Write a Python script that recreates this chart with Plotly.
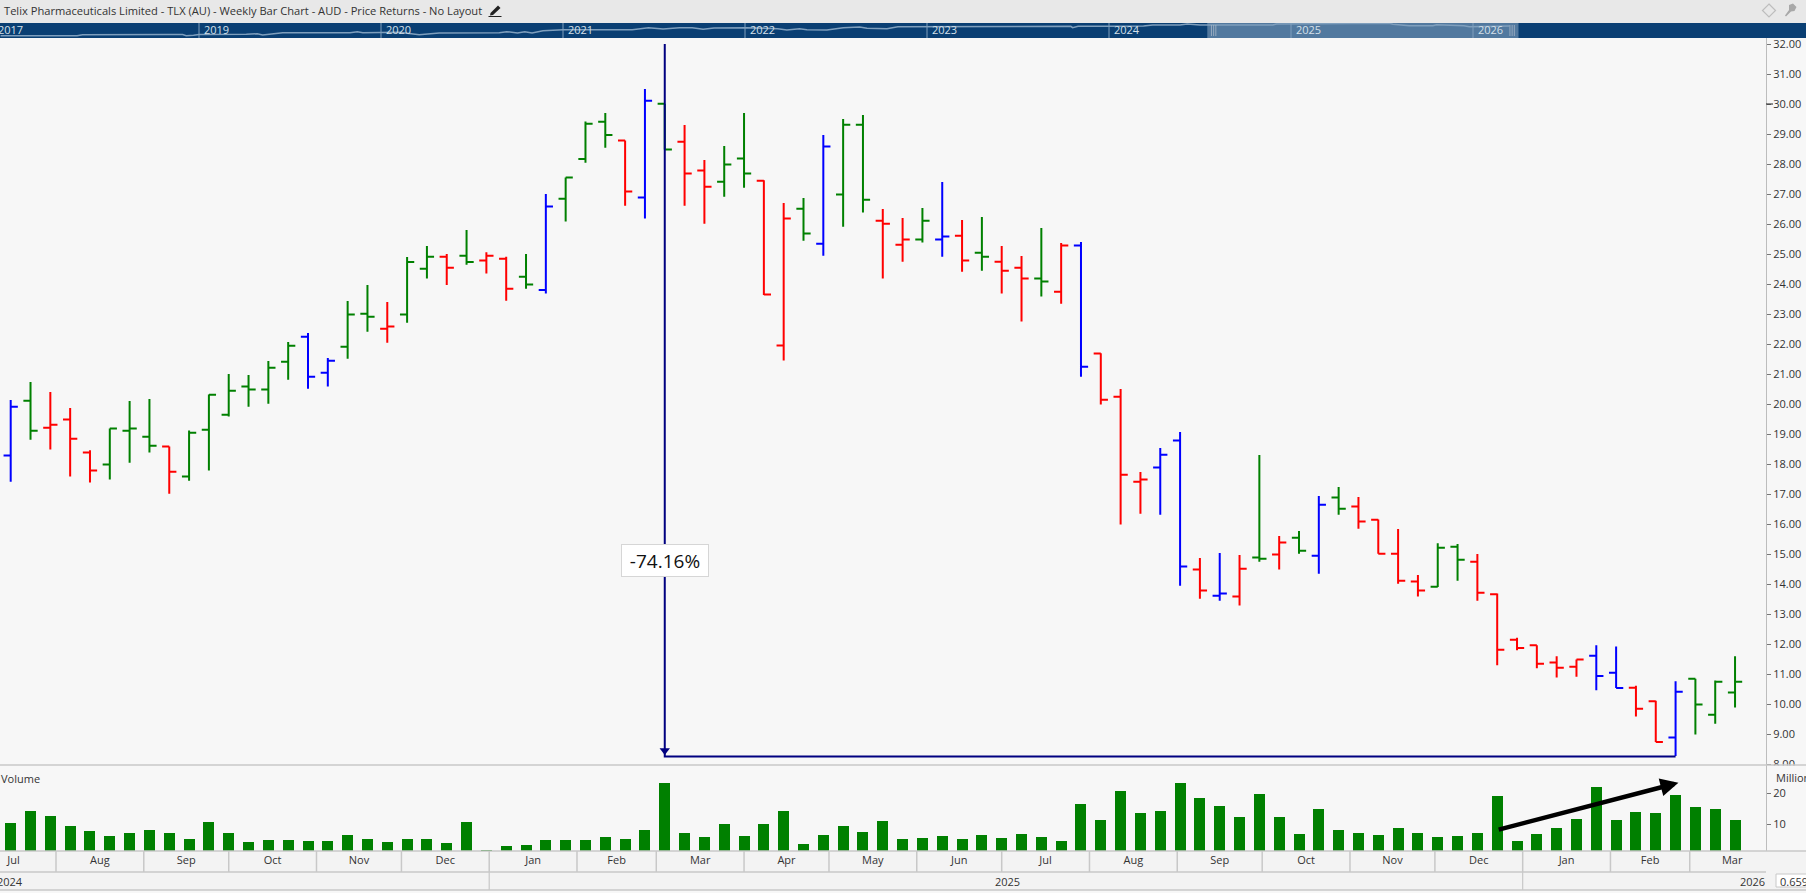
from datetime import datetime, timedelta
import plotly.graph_objects as go

W, H = 1806, 893

# ---------- data ----------
title_text = "Telix Pharmaceuticals Limited - TLX (AU) - Weekly Bar Chart - AUD - Price Returns - No Layout"
first_week = datetime(2024, 7, 16)

opens = [18.28,20.11,19.21,19.48,18.38,17.98,19.11,18.91,18.58,17.58,19.14,19.64,20.58,20.48,21.41,22.24,21.04,21.91,23.01,22.51,
         22.98,24.51,24.91,24.94,24.78,24.84,24.24,23.80,26.84,28.17,29.41,28.78,26.88,30.01,28.74,27.78,27.41,28.18,27.44,21.95,
         26.51,25.34,26.98,29.31,26.11,25.31,25.48,25.48,25.61,25.04,24.74,24.54,24.18,23.74,25.28,21.68,20.24,17.41,17.88,18.78,
         14.48,13.61,13.58,14.88,14.98,15.54,14.94,16.88,16.58,16.14,15.01,14.08,13.91,15.24,14.74,13.66,12.14,11.96,11.38,11.24,
         11.61,11.04,10.54,10.09,8.88,10.84,9.64,10.38]
highs = [20.13,20.73,20.40,19.87,18.46,19.18,20.10,20.17,18.58,19.12,20.32,21.00,20.97,21.43,22.07,22.37,21.53,23.43,23.97,23.40,
         24.90,25.27,25.00,25.80,25.06,24.91,25.00,27.00,27.55,29.42,29.70,28.78,30.50,30.01,29.30,28.13,28.60,29.70,27.46,26.70,
         26.87,28.97,29.50,29.63,26.50,26.20,26.53,27.40,26.13,26.23,25.27,24.93,25.87,25.37,25.40,21.69,20.50,17.73,18.53,19.07,
         14.87,15.03,14.97,18.30,15.60,15.77,16.93,17.23,16.90,16.15,15.83,14.30,15.36,15.33,15.00,13.68,12.21,11.96,11.59,11.48,
         11.96,11.92,10.61,10.11,10.76,10.84,10.78,11.59]
lows = [17.41,18.81,18.48,17.58,17.38,17.48,18.04,18.38,17.01,17.44,17.78,19.58,19.91,20.01,20.81,20.51,20.58,21.51,22.41,22.04,
        22.71,24.18,23.97,24.64,24.35,23.44,23.84,23.68,26.08,28.04,28.54,26.61,26.18,28.48,26.61,26.01,26.91,27.21,23.63,21.45,
        25.44,24.94,25.91,26.38,24.18,24.74,25.38,24.91,24.41,24.44,23.68,22.75,23.58,23.34,20.91,19.98,15.98,16.34,16.31,13.94,
        13.51,13.44,13.28,14.74,14.48,15.01,14.34,16.31,15.84,15.01,14.01,13.58,13.90,14.11,13.44,11.29,11.79,11.19,10.88,10.91,
        10.46,10.53,9.58,8.73,8.27,8.98,9.34,9.88]
closes = [19.91,19.11,19.31,18.84,17.78,19.18,19.18,18.61,17.74,19.04,20.31,20.44,20.48,21.21,21.94,20.91,21.44,22.98,22.91,22.58,
          24.73,24.91,24.54,24.73,24.94,23.84,23.98,26.58,27.55,29.34,28.97,27.08,30.11,28.48,27.68,27.24,27.98,27.68,23.65,26.18,
          25.68,28.58,29.31,26.81,26.01,25.48,26.11,25.58,24.78,24.91,24.44,24.18,24.08,25.28,21.24,20.14,17.64,17.48,18.31,14.58,
          13.78,13.68,14.51,14.84,15.38,15.11,16.64,16.51,16.08,15.01,14.11,13.78,15.21,14.81,13.71,11.81,11.87,11.34,11.21,11.48,
          10.93,10.53,9.84,8.73,10.41,9.98,10.74,10.74]
bar_state = list("bgrrrgggrg" "gggggbbggr" "ggrgrrgbgg" "grbgrrggrr" "gbggrrgbrg"
                 "rrgrbrrrbb" "rbrgrgbgrr" "rrggrrrrrr" "bbrrbggg")
volumes = [10.32,14.19,12.58,9.35,7.74,6.13,7.10,8.06,7.10,5.16,10.65,7.10,4.19,4.84,4.84,4.52,4.52,6.45,5.16,4.19,
           5.16,5.16,3.87,10.65,1.60,2.90,3.23,4.84,4.84,4.84,5.81,5.16,8.06,23.23,7.10,5.81,10.0,6.13,10.0,14.19,
           3.55,6.45,9.35,7.42,10.97,5.16,5.48,6.13,5.16,6.45,5.48,6.77,5.81,4.52,16.45,11.29,20.65,13.55,14.19,23.23,
           18.39,15.81,12.26,19.68,12.26,6.77,14.84,8.06,7.10,6.45,8.71,7.10,5.81,6.13,7.10,19.03,4.52,6.77,8.71,11.61,
           21.94,11.29,13.87,13.55,19.35,15.48,14.84,11.29]

month_names = ["Jul","Aug","Sep","Oct","Nov","Dec","Jan","Feb","Mar","Apr","May","Jun","Jul","Aug","Sep","Oct","Nov","Dec","Jan","Feb","Mar"]
month_starts = ["2024-08-01","2024-09-01","2024-10-01","2024-11-01","2024-12-01","2025-01-01","2025-02-01","2025-03-01","2025-04-01",
                "2025-05-01","2025-06-01","2025-07-01","2025-08-01","2025-09-01","2025-10-01","2025-11-01","2025-12-01","2026-01-01",
                "2026-02-01","2026-03-01"]
first_month_label = "2024-07-17"
last_month_label = "2026-03-16"
price_ticks = list(range(8, 33))
vol_ticks = [10, 20]
measure_top, measure_bottom = 32.0, 8.25
measure_label = "-74.16%"
vol_arrow_from, vol_arrow_to = 8.06, 23.3

overview_years = [2017.91,2018.33,2018.36,2018.79,2018.80,2018.83,2018.91,2018.93,2018.97,2019.0,2019.26,2019.32,2019.35,2019.46,2019.83,2019.87,2019.90,
                  2019.99,2020.10,2020.21,2020.32,2020.65,2020.69,2020.75,2020.79,2020.83,2020.89,2021.0,2021.38,2021.47,2021.55,2021.64,2021.71,2021.77,
                  2021.83,2022.01,2022.12,2022.18,2022.23,2022.30,2022.34,2022.45,2022.54,2022.63,2022.67,2022.78,2022.84,2023.02,2023.29,2023.79,2023.80,
                  2023.83,2024.0,2024.19,2024.24,2024.39,2024.43,2024.48,2024.50,2024.90,2024.92,2025.54,2025.56,2025.65,2025.78,2025.80,2025.95,2025.98,2026.19,2026.20]
overview_vals = [2.3,2.3,3.3,3.5,4.2,3.5,3.5,2.3,2.7,3.5,3.7,4.2,3.0,5.3,5.3,6.3,5.3,5.3,5.7,3.3,5.0,5.3,6.3,5.0,6.3,5.0,7.3,8.3,8.3,10.3,9.0,10.3,10.3,8.7,10.0,
                 10.3,9.3,9.3,8.0,9.3,8.3,8.0,10.3,11.0,9.7,9.3,11.3,11.3,11.7,11.7,10.3,11.7,11.7,12.0,13.0,13.0,14.0,13.7,13.0,13.0,14.0,14.7,13.7,12.3,12.3,13.3,12.3,11.3,11.3,12.0]
overview_year_marks = [2019,2020,2021,2022,2023,2024,2025,2026]
overview_selection = (2024.54, 2026.25)

# ---------- colours ----------
C_GREEN, C_RED, C_BLUE, C_NAVY = "#008000", "#ff0000", "#0000ff", "#000080"
BG = "#f7f7f7"; ROW = "#f3f3f3"; HEAD = "#e8e8e8"; STRIP = "#0a3f73"; SEL = "#52799f"
GRID = "#c8c8c8"; TXT = "#333333"
FONT = "Open Sans"

def px(x): return x / W
def py(y): return 1 - y / H

dates = [first_week + timedelta(days=7 * i) for i in range(len(opens))]
x_start = first_week - timedelta(days=10.7 / (19.82 / 7))
x_end = first_week + timedelta(days=(1766 - 10.7) / (19.82 / 7))

fig = go.Figure()

colors = {"g": C_GREEN, "r": C_RED, "b": C_BLUE}
for key, col in colors.items():
    idx = [i for i, s in enumerate(bar_state) if s == key]
    fig.add_trace(go.Ohlc(
        x=[dates[i] for i in idx], open=[opens[i] for i in idx], high=[highs[i] for i in idx],
        low=[lows[i] for i in idx], close=[closes[i] for i in idx],
        increasing=dict(line=dict(color=col, width=2)), decreasing=dict(line=dict(color=col, width=2)),
        tickwidth=0.36, showlegend=False, hoverinfo="skip", xaxis="x", yaxis="y"))

d_start = dates[33]; d_end = dates[84]
fig.add_trace(go.Scatter(x=[d_start, d_start, d_end], y=[measure_top, measure_bottom, measure_bottom], mode="lines",
                         line=dict(color=C_NAVY, width=2), showlegend=False, hoverinfo="skip", xaxis="x", yaxis="y"))
fig.add_trace(go.Scatter(x=[d_start], y=[measure_bottom + 0.2], mode="markers",
                         marker=dict(symbol="triangle-down", size=9, color=C_NAVY), showlegend=False, hoverinfo="skip", xaxis="x", yaxis="y"))

fig.add_trace(go.Bar(x=dates, y=volumes, width=0.555 * 7 * 86400000, marker=dict(color=C_GREEN, line=dict(width=0)),
                     base=0, showlegend=False, hoverinfo="skip", xaxis="x", yaxis="y2"))

fig.add_trace(go.Scatter(x=overview_years, y=overview_vals, mode="lines", line=dict(color="#7f9fbd", width=1.5),
                         showlegend=False, hoverinfo="skip", xaxis="x3", yaxis="y3"))

# month ticks
starts = [datetime.strptime(s, "%Y-%m-%d") for s in month_starts]
mids = [datetime.strptime(first_month_label, "%Y-%m-%d")]
for a, b in zip(starts[:-1], starts[1:]):
    mids.append(a + (b - a) / 2)
mids.append(datetime.strptime(last_month_label, "%Y-%m-%d"))

def rect(x0, y0, x1, y1, color, layer="below"):
    return dict(type="rect", xref="paper", yref="paper", x0=px(x0), x1=px(x1), y0=py(y1), y1=py(y0),
                fillcolor=color, line=dict(width=0), layer=layer)
def hline(y, x0=0, x1=W, color=GRID, w=1.5, layer="above"):
    return dict(type="line", xref="paper", yref="paper", x0=px(x0), x1=px(x1), y0=py(y), y1=py(y),
                line=dict(color=color, width=w), layer=layer)
def poly(points, fill, line=None, w=0):
    d = "M" + " L".join(f"{px(a):.5f},{py(b):.5f}" for a, b in points) + " Z"
    return dict(type="path", xref="paper", yref="paper", path=d, fillcolor=fill,
                line=dict(color=line or fill, width=w), layer="above")

shapes = [
    rect(0, 0, W, 23, HEAD),
    rect(0, 23, W, 38, STRIP),
    rect(0, 851, W, 890, ROW),
    dict(type="rect", xref="x3", yref="y3", x0=overview_selection[0], x1=overview_selection[1], y0=0, y1=15,
         fillcolor=SEL, line=dict(width=0), layer="below"),
    rect(1767, 765.5, W, 776, BG, "above"),
    hline(765), hline(851), hline(872, 0, 1766), hline(890),
    rect(1776, 874, 1808, 887, "#ffffff", "above"),
    dict(type="rect", xref="paper", yref="paper", x0=px(1776), x1=px(1808), y0=py(887), y1=py(874),
         fillcolor="rgba(0,0,0,0)", line=dict(color=GRID, width=1), layer="above"),
    dict(type="line", xref="paper", yref="y", x0=px(1766), x1=px(1773), y0=30, y1=30,
         line=dict(color="#222222", width=1), layer="above"),
    # pencil icon
    poly([(490.5, 13), (498, 5.5), (500.5, 8), (493, 15), (490, 15.5)], "#222222"),
    hline(16.5, 488.5, 501.5, "#222222", 1),
    # diamond and pin icons
    poly([(1769, 4), (1775.5, 10.5), (1769, 17), (1762.5, 10.5)], "rgba(0,0,0,0)", "#bdbdbd", 1.2),
    poly([(1789, 5), (1793, 3.5), (1796.5, 7), (1794.5, 11), (1791, 11.5), (1786, 16.5), (1785, 15.5), (1789, 10)], "#a8a8a8"),
]
for s in starts:
    shapes.append(dict(type="line", xref="x", yref="paper", x0=s, x1=s, y0=py(872), y1=py(851),
                       line=dict(color=GRID, width=1.5), layer="above"))
for s in (datetime(2025, 1, 1), datetime(2026, 1, 1)):
    shapes.append(dict(type="line", xref="x", yref="paper", x0=s, x1=s, y0=py(890), y1=py(872),
                       line=dict(color=GRID, width=1.2), layer="above"))
for yr in overview_year_marks:
    shapes.append(dict(type="line", xref="x3", yref="y3", x0=yr, x1=yr, y0=0, y1=15,
                       line=dict(color="#7f9fbd", width=1), layer="above"))
# overview selection handles
for yr in (overview_selection[0] + 0.035, overview_selection[1] - 0.035):
    for off in (-0.012, 0, 0.012):
        shapes.append(dict(type="line", xref="x3", yref="y3", x0=yr + off, x1=yr + off, y0=2, y1=13,
                           line=dict(color="#a8b8c8", width=0.8), layer="above"))

def note(text, x, y, anchor="left", size=11, color=TXT):
    return dict(text=text, xref="paper", yref="paper", x=px(x), y=py(y), xanchor=anchor, yanchor="middle",
                showarrow=False, font=dict(family=FONT, size=size, color=color), borderpad=0)

annotations = [
    note(title_text, 3, 11, size=11.13),
    note("Volume", 0, 778),
    note("Million", 1775, 777),
    note("2024", -4, 881),
    note("2025", 1007, 881, "center"),
    note("2026", 1739, 881),
    note("0.659", 1779, 881),
    note("2017", -3, 29.5, color="#d5e0ea"),
    dict(text=measure_label, x=d_start, y=14.78, xref="x", yref="y", showarrow=False, width=84, height=29,
         bgcolor="#ffffff", bordercolor="#d6d6d6", borderwidth=1, font=dict(family=FONT, size=19, color="#111111")),
    dict(x=dates[84] + timedelta(days=1), y=vol_arrow_to, ax=dates[75], ay=vol_arrow_from, xref="x", yref="y2",
         axref="x", ayref="y2", showarrow=True, arrowhead=2, arrowsize=0.8, arrowwidth=4.5, arrowcolor="#000000", text=""),
]
for yr in overview_year_marks:
    annotations.append(dict(text=str(yr), x=yr, y=8.7, xref="x3", yref="y3", xanchor="left", yanchor="middle", xshift=3,
                            showarrow=False, font=dict(family=FONT, size=11, color="#d5e0ea")))

fig.update_layout(
    width=W, height=H, margin=dict(l=0, r=0, t=0, b=0, pad=0), autosize=False,
    paper_bgcolor=BG, plot_bgcolor="rgba(0,0,0,0)", showlegend=False, bargap=0,
    font=dict(family=FONT, size=11, color=TXT),
    xaxis=dict(domain=[0, px(1766)], anchor="y2", type="date", range=[x_start, x_end], rangeslider=dict(visible=False),
               tickmode="array", tickvals=mids, ticktext=month_names, ticks="", showgrid=False, showline=False, zeroline=False,
               tickfont=dict(family=FONT, size=11, color=TXT), ticklabelstandoff=1, automargin=False),
    yaxis=dict(domain=[py(765), py(38)], anchor="x", side="right", range=[(1004 - 765) / 30, (1004 - 38) / 30],
               tickmode="array", tickvals=price_ticks, ticktext=[f"{v:.2f}" for v in price_ticks], ticks="outside", ticklen=4, tickcolor="#777777",
               tickwidth=1, showgrid=False, zeroline=False, showline=True, linecolor="#bdbdbd", linewidth=1,
               tickfont=dict(family=FONT, size=11, color=TXT), automargin=False),
    yaxis2=dict(domain=[py(851), py(765)], anchor="x", side="right", range=[1.3, 29.03],
                tickmode="array", tickvals=vol_ticks, ticktext=[str(v) for v in vol_ticks], ticks="outside", ticklen=4, tickcolor="#777777",
                tickwidth=1, showgrid=False, zeroline=False, showline=True, linecolor="#bdbdbd", linewidth=1,
                tickfont=dict(family=FONT, size=11, color=TXT), automargin=False),
    xaxis3=dict(domain=[0, 1], anchor="y3", range=[2017.9066, 2027.8297], visible=False, fixedrange=True, automargin=False),
    yaxis3=dict(domain=[py(38), py(23)], anchor="x3", range=[0, 15], visible=False, fixedrange=True, automargin=False),
    shapes=shapes, annotations=annotations,
)

fig.write_html("out.html", config=dict(displayModeBar=False),
               post_script="document.body.style.margin='0';document.body.style.overflow='hidden';")
